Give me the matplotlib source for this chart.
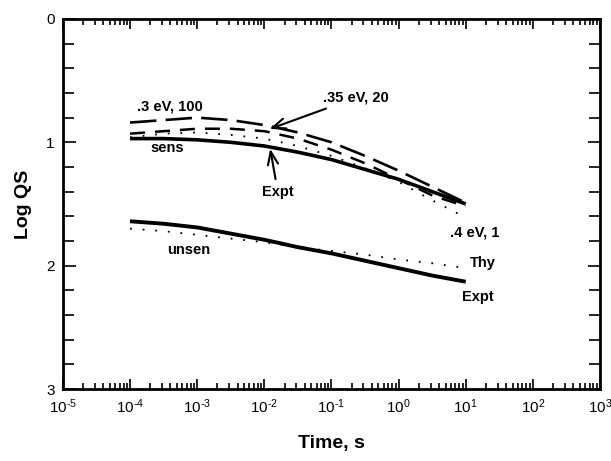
import numpy as np
import matplotlib
matplotlib.use("Agg")
import matplotlib.pyplot as plt
from matplotlib.ticker import LogLocator, MultipleLocator, NullFormatter, FuncFormatter

plt.rcParams["font.family"] = ["Liberation Sans", "DejaVu Sans"]
plt.rcParams["mathtext.fontset"] = "custom"
plt.rcParams["mathtext.rm"] = "Liberation Sans"
plt.rcParams["mathtext.it"] = "Liberation Sans:italic"
plt.rcParams["mathtext.bf"] = "Liberation Sans:bold"

# === Data: log QS vs time (half-decade steps) ===
time_s = 10.0 ** np.array([-4, -3.5, -3, -2.5, -2, -1.5, -1, -0.5, 0, 0.5, 1])

sens_expt = [0.97, 0.97, 0.98, 1.00, 1.03, 1.08, 1.14, 1.22, 1.30, 1.40, 1.50]
sens_03ev = [0.84, 0.82, 0.80, 0.82, 0.86, 0.92, 1.00, 1.11, 1.23, 1.36, 1.49]
sens_035ev = [0.93, 0.91, 0.89, 0.89, 0.91, 0.97, 1.06, 1.17, 1.30, 1.43, 1.52]
sens_04ev = [0.96, 0.93, 0.92, 0.94, 0.97, 1.03, 1.11, 1.21, 1.32, 1.47, 1.61]

unsen_expt = [1.64, 1.66, 1.69, 1.74, 1.79, 1.85, 1.90, 1.96, 2.02, 2.08, 2.13]
unsen_thy = [1.70, 1.72, 1.75, 1.78, 1.81, 1.85, 1.88, 1.91, 1.95, 1.98, 2.02]


def decade_label(x, pos):
    # 10^n with a short hyphen instead of the math minus
    n = int(round(np.log10(x)))
    if n < 0:
        return r"$\mathregular{10^{\text{-}%d}}$" % (-n)
    return r"$\mathregular{10^{%d}}$" % n


# === Figure ===
fig = plt.figure(figsize=(6.11, 4.61), dpi=100)
ax = fig.add_axes([0.103, 0.156, 0.879, 0.803])

ax.plot(time_s, sens_expt, color="black", lw=2.6, solid_capstyle="butt")
ax.plot(time_s, sens_03ev, color="black", lw=1.9, dashes=(10, 3.5))
ax.plot(time_s, sens_035ev, color="black", lw=1.8, dashes=(6, 4))
ax.plot(time_s, sens_04ev, color="black", lw=1.3, dashes=(1, 6))

ax.plot(time_s, unsen_expt, color="black", lw=2.8, solid_capstyle="butt")
ax.plot(time_s, unsen_thy, color="black", lw=1.3, dashes=(1, 6))

# === Axes ===
ax.set_xscale("log")
ax.set_xlim(1e-5, 1e3)
ax.set_ylim(3, 0)
ax.xaxis.set_major_locator(LogLocator(base=10, numticks=20))
ax.xaxis.set_major_formatter(FuncFormatter(decade_label))
ax.xaxis.set_minor_locator(LogLocator(base=10, subs=np.arange(2, 10), numticks=20))
ax.xaxis.set_minor_formatter(NullFormatter())
ax.yaxis.set_major_locator(MultipleLocator(1))
ax.yaxis.set_minor_locator(MultipleLocator(0.2))

ax.tick_params(which="both", direction="in", top=True, right=True, width=1.2,
               labelsize=11, pad=6)
ax.tick_params(axis="x", which="major", length=7)
ax.tick_params(axis="x", which="minor", length=4)
ax.tick_params(axis="y", which="major", length=9)
ax.tick_params(axis="y", which="minor", length=8)
for sp in ax.spines.values():
    sp.set_linewidth(2)

ax.set_xlabel("Time, s", fontsize=14, fontweight="bold", labelpad=14)
ax.set_ylabel("Log QS", fontsize=14, fontweight="bold", labelpad=10)

# === Curve labels ===
lab = dict(fontsize=10.5, fontweight="bold", va="center", ha="left")
ax.text(10 ** -3.9, 0.71, ".3 eV, 100", **lab)
ax.text(10 ** -3.7, 1.05, "sens", **lab)
ax.text(10 ** 0.77, 1.73, ".4 eV, 1", **lab)
ax.text(10 ** -3.45, 1.87, "unsen", **lab)
ax.text(10 ** 1.06, 1.98, "Thy", **lab)
ax.text(10 ** 0.95, 2.25, "Expt", **lab)

arrow = dict(arrowstyle="->,head_length=0.9,head_width=0.35", color="black", lw=1.5)
ax.annotate(".35 eV, 20", xy=(10 ** -1.96, 0.90), xytext=(10 ** -1.13, 0.64),
            fontsize=10.5, fontweight="bold", va="center", ha="left",
            arrowprops=arrow)
ax.annotate("Expt", xy=(10 ** -1.92, 1.03), xytext=(10 ** -1.8, 1.40),
            fontsize=10.5, fontweight="bold", va="center", ha="center",
            arrowprops=arrow)

fig.savefig("out.png", dpi=100)
